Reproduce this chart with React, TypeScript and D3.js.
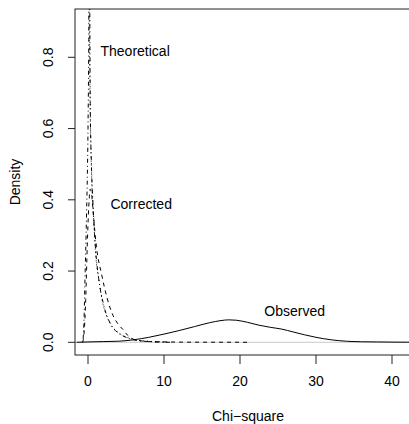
import React from "react";
import * as d3 from "d3";

const W = 409;
const H = 424;

// Tick values
const xTicks = [0, 10, 20, 30, 40];
const yTicks = [0, 0.2, 0.4, 0.6, 0.8];
const yTickLabels = ["0.0", "0.2", "0.4", "0.6", "0.8"];

// Observed (solid)
const obsX = [-1.5, 0, 2, 4, 6, 8, 10, 12, 14, 16, 17.5, 18.5, 19.5, 21, 22.5, 24, 25.5, 27, 28.5, 30, 32, 34, 36, 38, 40, 42, 44];
const obsY = [0, 0.001, 0.002, 0.003, 0.007, 0.014, 0.023, 0.033, 0.044, 0.055, 0.061, 0.063, 0.062, 0.056, 0.048, 0.042, 0.037, 0.029, 0.021, 0.014, 0.007, 0.003, 0.0015, 0.001, 0.0005, 0.0003, 0.0002];

// Theoretical (dotted)
const theoX = [0.06, 0.08, 0.1, 0.15, 0.2, 0.3, 0.4, 0.5, 0.7, 1, 1.4, 2, 2.5, 3, 4, 5, 6, 8, 10];
const theoY = [1.6, 1.35, 1.2, 0.96, 0.81, 0.64, 0.53, 0.45, 0.37, 0.25, 0.18, 0.105, 0.072, 0.05, 0.027, 0.015, 0.008, 0.003, 0.001];

// Unlabelled density (dot-dash)
const ddX = [-0.8, -0.65, -0.5, -0.4, -0.2, 0, 0.1, 0.15, 0.22, 0.3, 0.45, 0.65, 1, 1.4, 2, 3, 4, 5, 6, 8, 11];
const ddY = [0, 0.01, 0.08, 0.175, 0.35, 0.6, 0.85, 1.1, 1.0, 0.66, 0.5, 0.39, 0.26, 0.18, 0.11, 0.05, 0.026, 0.014, 0.007, 0.002, 0];

// Corrected (dashed)
const corX = [-0.7, -0.5, -0.3, -0.1, 0.1, 0.3, 0.5, 0.7, 1.1, 1.8, 2.5, 3.3, 4, 4.6, 5.2, 5.75, 7, 8, 10, 12, 15, 18, 21];
const corY = [0, 0.03, 0.12, 0.27, 0.38, 0.43, 0.41, 0.36, 0.27, 0.19, 0.125, 0.075, 0.05, 0.036, 0.02, 0.011, 0.004, 0.002, 0.001, 0.0005, 0.0003, 0.0002, 0];

const labels = [
  { text: "Theoretical", x: 6.2, y: 0.815 },
  { text: "Corrected", x: 7.0, y: 0.385 },
  { text: "Observed", x: 27.2, y: 0.085 },
];

export default function App() {
  const x = d3.scaleLinear().domain([0, 40]).range([88, 392]);
  const y = d3.scaleLinear().domain([0, 0.8]).range([342.3, 57.3]);
  const left = 75, top = 9, bottom = 355, right = 421;

  const line = d3
    .line<[number, number]>()
    .x((d) => x(d[0]))
    .y((d) => y(d[1]))
    .curve(d3.curveMonotoneX);
  const zip = (a: number[], b: number[]) => a.map((v, i) => [v, b[i]] as [number, number]);

  const font = "'Liberation Sans', Arial, Helvetica, sans-serif";

  return (
    <svg
      width={W}
      height={H}
      style={{ position: "absolute", left: 0, top: 0, background: "#fff" }}
      fontFamily={font}
    >
      <defs>
        <clipPath id="plotclip">
          <rect x={left} y={top} width={right - left} height={bottom - top} />
        </clipPath>
      </defs>
      <rect x={0} y={0} width={W} height={H} fill="#fff" />
      {/* zero line */}
      <line x1={left} x2={right} y1={y(0)} y2={y(0)} stroke="#bebebe" strokeWidth={0.8} />
      <g clipPath="url(#plotclip)" fill="none" stroke="#000" strokeWidth={1}>
        <path d={line(zip(obsX, obsY)) || ""} />
        <path d={line(zip(theoX, theoY)) || ""} strokeDasharray="1,3" />
        <path d={line(zip(ddX, ddY)) || ""} strokeDasharray="1,3,4,3" />
        <path d={line(zip(corX, corY)) || ""} strokeDasharray="4,4" />
      </g>
      {/* box */}
      <rect x={left} y={top} width={right - left} height={bottom - top} fill="none" stroke="#222" strokeWidth={1} />
      {/* x axis */}
      {xTicks.map((t) => (
        <g key={"x" + t}>
          <line x1={x(t)} x2={x(t)} y1={bottom} y2={bottom + 9} stroke="#222" />
          <text x={x(t)} y={bottom + 27} textAnchor="middle" dominantBaseline="middle" fontSize={14}>
            {t}
          </text>
        </g>
      ))}
      {/* y axis */}
      {yTicks.map((t, i) => (
        <g key={"y" + t}>
          <line x1={left - 7} x2={left} y1={y(t)} y2={y(t)} stroke="#222" />
          <text
            transform={`translate(49,${y(t)}) rotate(-90)`}
            textAnchor="middle"
            dominantBaseline="middle"
            fontSize={14}
          >
            {yTickLabels[i]}
          </text>
        </g>
      ))}
      <text x={(left + right) / 2} y={417} textAnchor="middle" dominantBaseline="middle" fontSize={14}>
        Chi{"\u2212"}square
      </text>
      <text
        transform={`translate(16,${(top + bottom) / 2}) rotate(-90)`}
        textAnchor="middle"
        dominantBaseline="middle"
        fontSize={14}
      >
        Density
      </text>
      {labels.map((l) => (
        <text key={l.text} x={x(l.x)} y={y(l.y)} textAnchor="middle" dominantBaseline="middle" fontSize={14}>
          {l.text}
        </text>
      ))}
    </svg>
  );
}
